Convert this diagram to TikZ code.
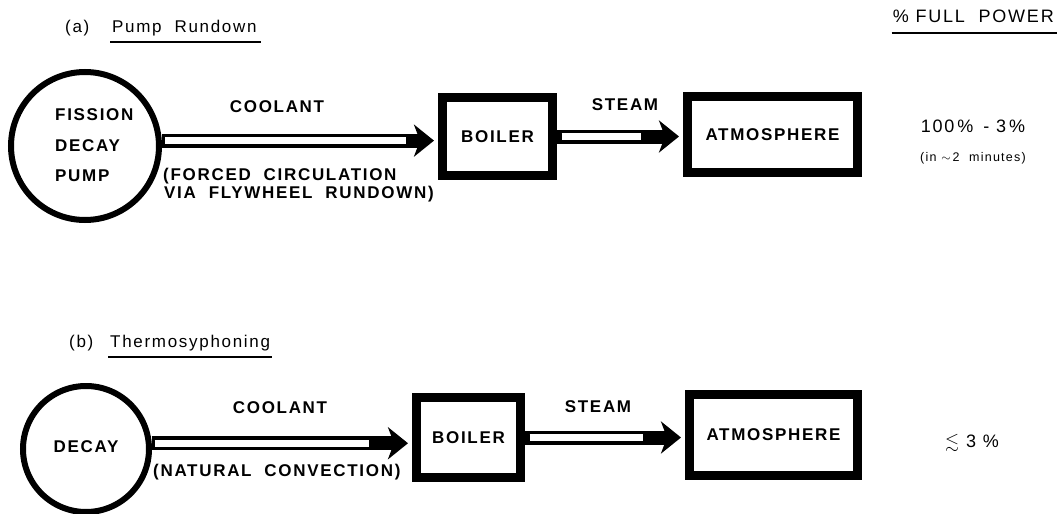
\documentclass[tikz,border=0pt]{standalone}
\usepackage{fontspec}
\usepackage{amssymb}
\setmainfont{Liberation Sans}
\newfontfamily\spaced[LetterSpace=10]{Liberation Sans}
\usetikzlibrary{arrows.meta}
\begin{document}
\begin{tikzpicture}[x=1pt,y=-1pt,
  lab/.style={font=\spaced\bfseries\fontsize{17}{19}\selectfont, inner sep=0pt},
  ttl/.style={font=\spaced\fontsize{17}{19}\selectfont, inner sep=0pt},
  big/.style={font=\spaced\fontsize{18}{20}\selectfont, inner sep=0pt},
  small/.style={font=\spaced\fontsize{12.5}{14}\selectfont, inner sep=0pt},
  ring/.style={circle, draw, line width=6pt, inner sep=0pt},
  unit/.style={draw, line width=9pt, inner sep=0pt},
  pipe/.style={line width=14pt, -{Stealth[length=20pt,width=32pt,inset=6pt]}, shorten >=4pt},
  bore/.style={white, line width=7pt},
  uline/.style={line width=1.4pt}
]
\useasboundingbox (0,0) rectangle (1061,514);

% ---------- panel (a) ----------
\node[ttl, anchor=base west] (la) at (65,32) {(a)};
\node[ttl, anchor=base west] (ta) at (112,32) {Pump\ \ Rundown};
\draw[uline] ([xshift=-2pt,yshift=-10pt]ta.base west) -- ([xshift=4pt,yshift=-10pt]ta.base east);

\node[big, anchor=base east] (fp) at (1054,22) {\%\ FULL\ \ POWER};
\draw[uline] ([xshift=-1pt,yshift=-11pt]fp.base west) -- ([xshift=3pt,yshift=-11pt]fp.base east);

\node[ring, minimum size=148pt] (cA) at (85,146) {};
\node[lab, anchor=west] (fis) at (55,115) {FISSION};
\node[lab, anchor=west] (dec) at (55,146) {DECAY};
\node[lab, anchor=west] (pmp) at (55,176) {PUMP};

\node[unit, minimum width=110pt, minimum height=78pt] (bA) at (497.5,136.5) {};
\node[lab] (bAt) at (bA) {BOILER};
\node[unit, minimum width=170pt, minimum height=76pt] (atA) at (772.5,134.5) {};
\node[lab] (atAt) at (atA) {ATMOSPHERE};

\draw[pipe] (cA.4) -- (cA.4 -| bA.west);
\draw[bore, shorten <=3pt, shorten >=32pt] (cA.4) -- (cA.4 -| bA.west);
\draw[pipe] (bA.east) -- (bA.east -| atA.west);
\draw[bore, shorten <=4.5pt, shorten >=42pt] (bA.east) -- (bA.east -| atA.west);

\node[lab] (coolA) at (277,107) {COOLANT};
\node[lab] (stA) at (625,105) {STEAM};
\node[lab, anchor=base west] (fc1) at (163,180) {(FORCED\ \ CIRCULATION};
\node[lab, anchor=base west] (fc2) at (164,198) {VIA\ \ FLYWHEEL\ \ RUNDOWN)};

\node[big, anchor=base] (pa) at (973,132) {100\,\%\ \,-\ 3\,\%};
\node[small, anchor=base] (pa2) at (973,161) {(in\ $\sim$\,2\ \ minutes)};

% ---------- panel (b) ----------
\node[ttl, anchor=base west] (lb) at (69,347) {(b)};
\node[ttl, anchor=base west] (tb) at (110,347) {Thermosyphoning};
\draw[uline] ([xshift=-2pt,yshift=-10pt]tb.base west) -- ([xshift=2pt,yshift=-10pt]tb.base east);

\node[ring, minimum size=126pt] (cB) at (86,449) {};
\node[lab] (decB) at (86,447) {DECAY};

\node[unit, minimum width=104pt, minimum height=80pt] (bB) at (468.5,437.5) {};
\node[lab] (bBt) at (bB) {BOILER};
\node[unit, minimum width=168pt, minimum height=81pt] (atB) at (773.5,435) {};
\node[lab] (atBt) at (atB) {ATMOSPHERE};

\draw[pipe] (cB.5) -- (cB.5 -| bB.west);
\draw[bore, shorten <=3pt, shorten >=43pt] (cB.5) -- (cB.5 -| bB.west);
\draw[pipe] (bB.east) -- (bB.east -| atB.west);
\draw[bore, shorten <=4.5pt, shorten >=42pt] (bB.east) -- (bB.east -| atB.west);

\node[lab] (coolB) at (280,408) {COOLANT};
\node[lab] (stB) at (598,407) {STEAM};
\node[lab, anchor=base west] (nc) at (153,476) {(NATURAL\ \ CONVECTION)};

\node[big, anchor=base] (pb) at (972,447) {$\lesssim$\ 3\ \%};
\end{tikzpicture}
\end{document}
